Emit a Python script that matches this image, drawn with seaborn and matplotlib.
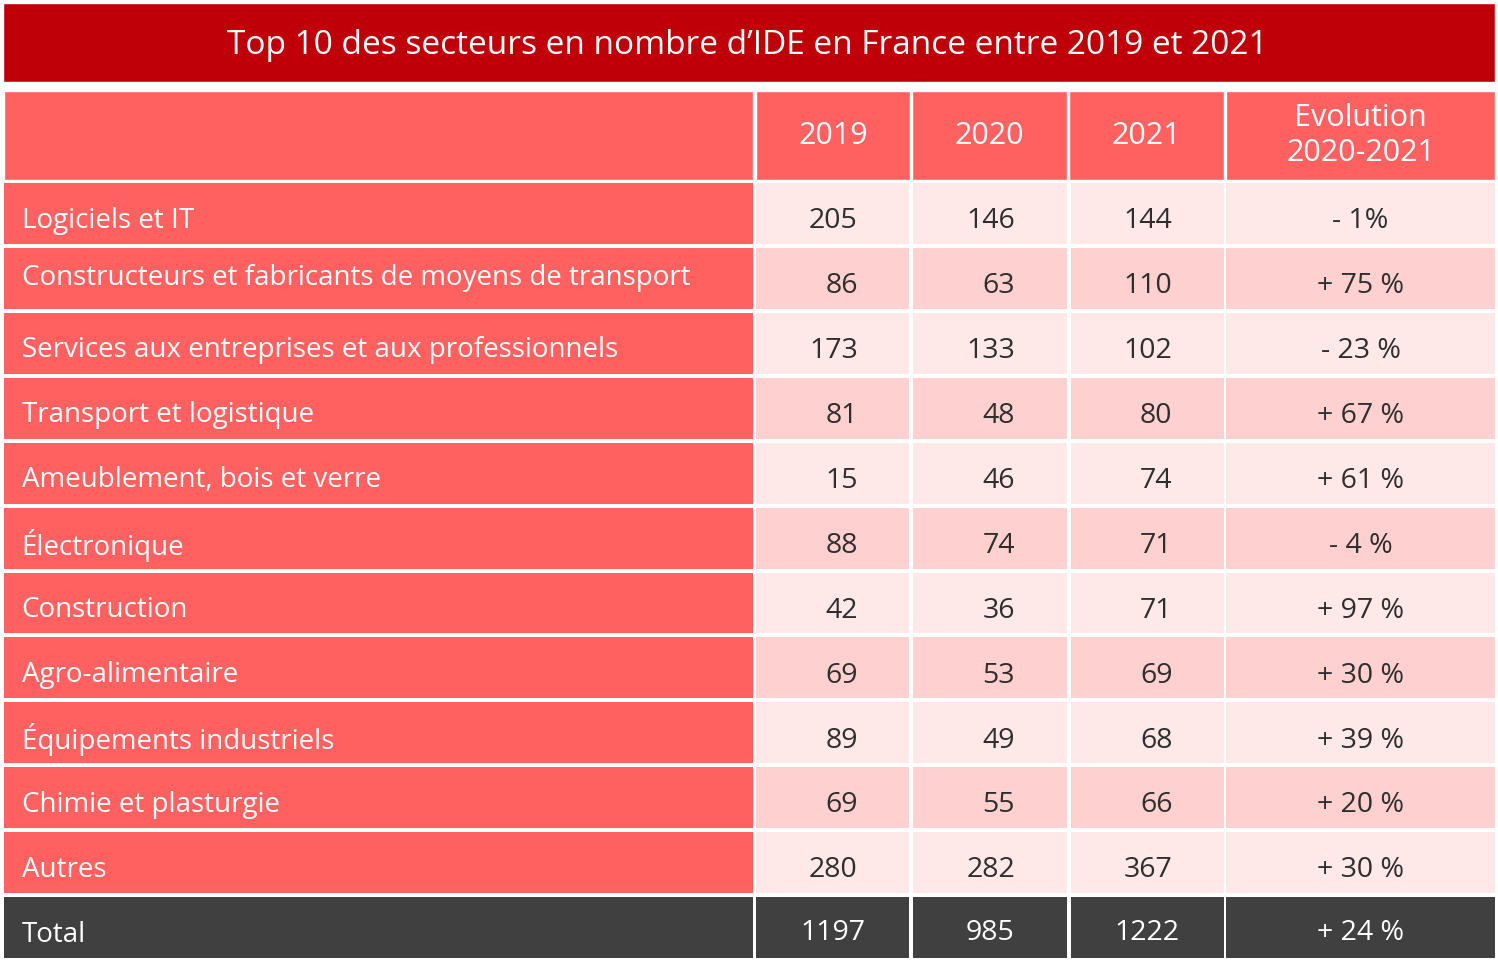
import pandas as pd
import seaborn as sns
import numpy as np
import matplotlib.pyplot as plt
from matplotlib.colors import ListedColormap

# data
title = "Top 10 des secteurs en nombre d\u2019IDE en France entre 2019 et 2021"
sectors = ["Logiciels et IT",
           "Constructeurs et fabricants de moyens de transport",
           "Services aux entreprises et aux professionnels",
           "Transport et logistique",
           "Ameublement, bois et verre",
           "\u00c9lectronique",
           "Construction",
           "Agro-alimentaire",
           "\u00c9quipements industriels",
           "Chimie et plasturgie",
           "Autres"]
v2019 = [205, 86, 173, 81, 15, 88, 42, 69, 89, 69, 280]
v2020 = [146, 63, 133, 48, 46, 74, 36, 53, 49, 55, 282]
v2021 = [144, 110, 102, 80, 74, 71, 71, 69, 68, 66, 367]
evolution = ["- 1%", "+ 75 %", "- 23 %", "+ 67 %", "+ 61 %", "- 4 %",
             "+ 97 %", "+ 30 %", "+ 39 %", "+ 20 %", "+ 30 %"]
total_label = "Total"
totals = [1197, 985, 1222]
total_evolution = "+ 24 %"
year_cols = ["2019", "2020", "2021"]
evo_header = "Evolution\n2020-2021"

# colors
RED = "#C00009"
CORAL = "#FF6161"
LIGHT = "#FFE8E8"
PINK = "#FFD0D0"
GREY = "#404040"
TXT = "#2E2E2E"

sns.set_theme(style="white")
plt.rcParams["font.family"] = ["Open Sans", "DejaVu Sans"]

W, H = 1498, 966
fig = plt.figure(figsize=(W / 100, H / 100), dpi=100)

bg = fig.add_axes([0, 0, 1, 1])
bg.set_xlim(0, W)
bg.set_ylim(H, 0)
bg.axis("off")

# title bar
bg.barh(y=42.5, width=1492, left=3, height=79, color=RED)
bg.text(747, 46, title, color="white", fontsize=24, ha="center", va="center")

# column layout (pixels)
col_left = [3, 755, 911, 1068, 1225]
col_right = [754, 911, 1068, 1225, 1496]
head_top, head_bot = 90, 181
body_top, body_bot = 181, 960

# header row
for l, r in zip(col_left, col_right):
    bg.barh(y=(head_top + head_bot) / 2, width=r - l - 2, left=l + 1,
            height=head_bot - head_top - 2, color=CORAL)
for name, l, r in zip(year_cols + [evo_header], col_left[1:], col_right[1:]):
    bg.text((l + r) / 2, (head_top + head_bot) / 2, name, color="white",
            fontsize=22, ha="center", va="center", linespacing=1.25)

# body table
df = pd.DataFrame({"2019": v2019 + [totals[0]],
                   "2020": v2020 + [totals[1]],
                   "2021": v2021 + [totals[2]]},
                  index=sectors + [total_label])
n = len(df)
shade = np.array([i % 2 for i in range(n - 1)] + [3])
cmap = ListedColormap([LIGHT, PINK, CORAL, GREY])
kw = dict(cmap=cmap, vmin=-0.5, vmax=3.5, cbar=False, linewidths=1.6,
          linecolor="white", xticklabels=False, yticklabels=False)
annot_kws = {"fontsize": 20.5}


def place(x0, x1):
    return fig.add_axes([x0 / W, 1 - body_bot / H, (x1 - x0) / W,
                         (body_bot - body_top) / H])


# label column
ax_lab = place(col_left[0] - 1, col_right[0] + 1)
lab_codes = np.where(shade == 3, 3, 2).reshape(-1, 1)
sns.heatmap(lab_codes, ax=ax_lab, annot=False, **kw)
for i, s in enumerate(df.index):
    dy = 0.0 if i == 1 else 0.11
    ax_lab.text(0.026, i + 0.5 + dy, s, color="white", fontsize=20,
                ha="left", va="center")

# year values
ax_val = place(col_left[1] - 1, col_right[3] + 1)
sns.heatmap(np.tile(shade.reshape(-1, 1), (1, 3)), ax=ax_val,
            annot=df.astype(str).values, fmt="", annot_kws=annot_kws, **kw)
for t in ax_val.texts:
    x, y = t.get_position()
    if y < n - 1:
        # body numbers sit right-aligned a bit past the cell centre
        t.set_ha("right")
        t.set_position((x + 0.16, y + 0.12))
        t.set_color(TXT)
    else:
        t.set_position((x, y + 0.08))

# evolution column
ax_evo = place(col_left[4] - 1, col_right[4] + 1)
evo_labels = np.array(evolution + [total_evolution]).reshape(-1, 1)
sns.heatmap(shade.reshape(-1, 1), ax=ax_evo, annot=evo_labels, fmt="",
            annot_kws=annot_kws, **kw)
for t in ax_evo.texts:
    x, y = t.get_position()
    t.set_position((x, y + (0.12 if y < n - 1 else 0.08)))
    if y < n - 1:
        t.set_color(TXT)

for ax in (ax_lab, ax_val, ax_evo):
    ax.set_xlabel("")
    ax.set_ylabel("")

fig.savefig("out.png", dpi=100)
